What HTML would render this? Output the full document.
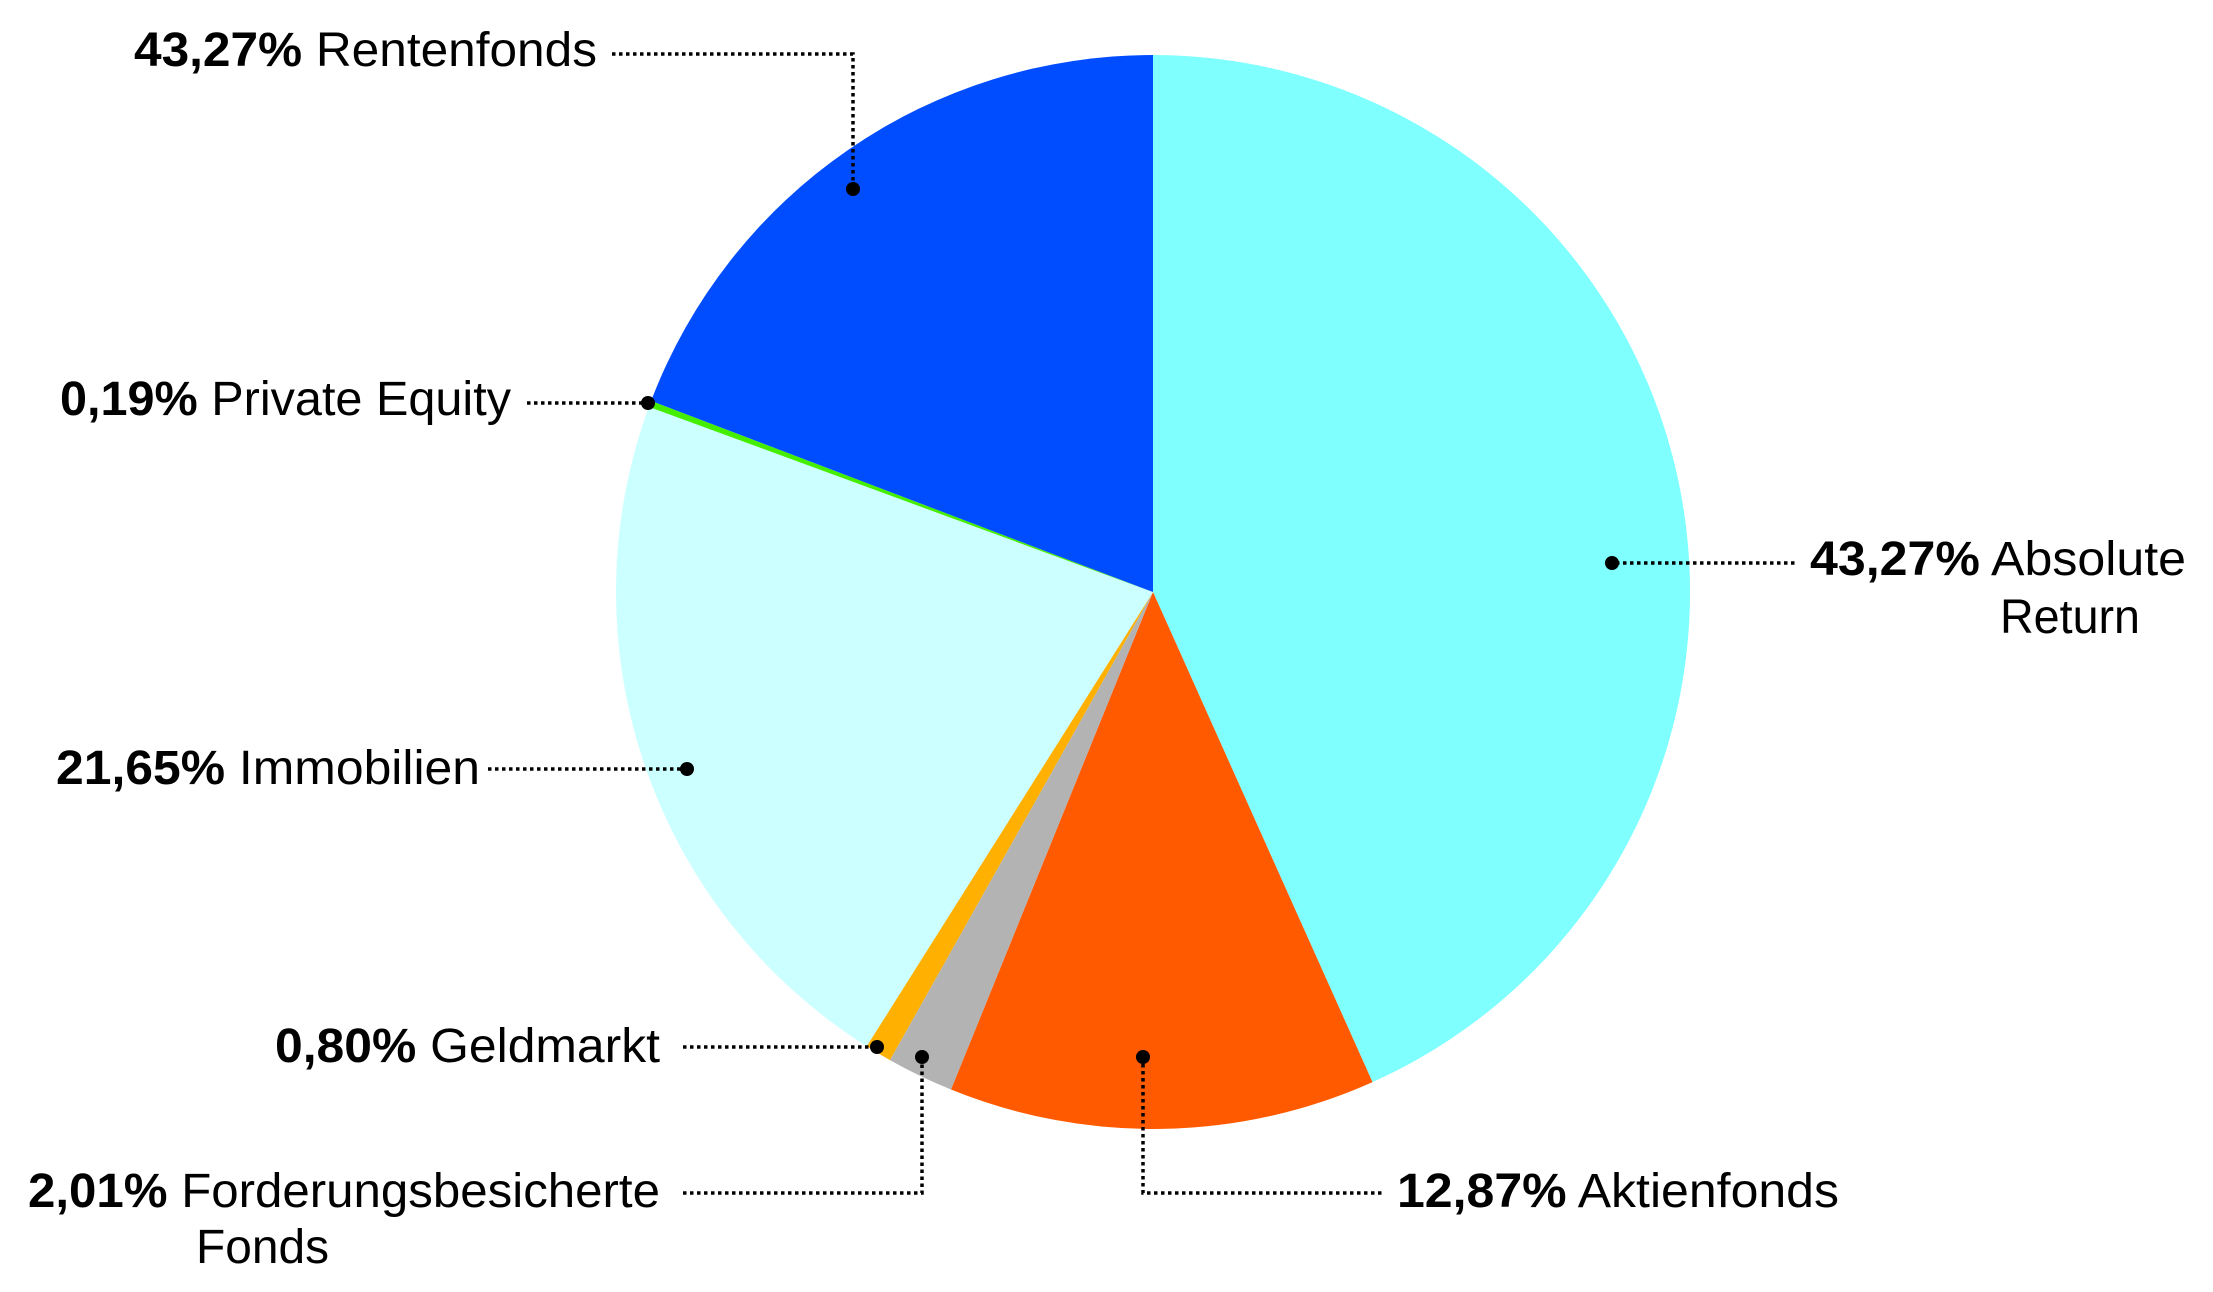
<!DOCTYPE html>
<html><head><meta charset="utf-8"><style>
html,body{margin:0;padding:0;background:#fff;}
svg{display:block;}
text{font-family:"Liberation Sans",sans-serif;font-size:48px;fill:#000;}
.b{font-weight:bold;}
.l{stroke:#000;stroke-width:3.5;stroke-dasharray:3.5 3.5;fill:none;}
</style></head><body>
<svg width="2213" height="1292" viewBox="0 0 2213 1292" xmlns="http://www.w3.org/2000/svg">
<g stroke="none">
<path d="M1153,592 L1153,55 A537,537 0 0,1 1372.5,1082.1 Z" fill="#80ffff"/>
<path d="M1153,592 L1372.5,1082.1 A537,537 0 0,1 951,1089.5 Z" fill="#ff5a00"/>
<path d="M1153,592 L951,1089.5 A537,537 0 0,1 889.9,1060.1 Z" fill="#b3b3b3"/>
<path d="M1153,592 L889.9,1060.1 A537,537 0 0,1 866.7,1046.3 Z" fill="#ffb000"/>
<path d="M1153,592 L866.7,1046.3 A537,537 0 0,1 648.9,406.9 Z" fill="#ccffff"/>
<path d="M1153,592 L648.9,406.9 A537,537 0 0,1 651.1,400.9 Z" fill="#44ee00"/>
<path d="M1153,592 L651.1,400.9 A537,537 0 0,1 1153,55 Z" fill="#004cff"/>
</g>
<!-- leader lines -->
<path class="l" d="M612,54 H853 V189"/>
<path class="l" d="M527,403 H645"/>
<path class="l" d="M488,769 H684"/>
<path class="l" d="M683,1047 H872"/>
<path class="l" d="M683,1193 H922 V1057"/>
<path class="l" d="M1143,1057 V1193 H1382"/>
<path class="l" d="M1616,563 H1795"/>
<g fill="#000">
<circle cx="853" cy="189" r="7"/>
<circle cx="648" cy="403" r="7"/>
<circle cx="687" cy="769" r="7"/>
<circle cx="877" cy="1047" r="7"/>
<circle cx="922" cy="1057" r="7"/>
<circle cx="1143" cy="1057" r="7"/>
<circle cx="1612" cy="563" r="7"/>
</g>
<text x="134" y="66" textLength="463" lengthAdjust="spacingAndGlyphs"><tspan class="b">43,27%</tspan> Rentenfonds</text>
<text x="60" y="415" textLength="451" lengthAdjust="spacingAndGlyphs"><tspan class="b">0,19%</tspan> Private Equity</text>
<text x="56" y="784" textLength="424" lengthAdjust="spacingAndGlyphs"><tspan class="b">21,65%</tspan> Immobilien</text>
<text x="275" y="1062" textLength="385" lengthAdjust="spacingAndGlyphs"><tspan class="b">0,80%</tspan> Geldmarkt</text>
<text x="28" y="1207" textLength="632" lengthAdjust="spacingAndGlyphs"><tspan class="b">2,01%</tspan> Forderungsbesicherte</text>
<text x="196" y="1263" textLength="133" lengthAdjust="spacingAndGlyphs">Fonds</text>
<text x="1397" y="1207" textLength="442" lengthAdjust="spacingAndGlyphs"><tspan class="b">12,87%</tspan> Aktienfonds</text>
<text x="1810" y="575" textLength="376" lengthAdjust="spacingAndGlyphs"><tspan class="b">43,27%</tspan> Absolute</text>
<text x="2000" y="633" textLength="140" lengthAdjust="spacingAndGlyphs">Return</text>
</svg>
</body></html>
